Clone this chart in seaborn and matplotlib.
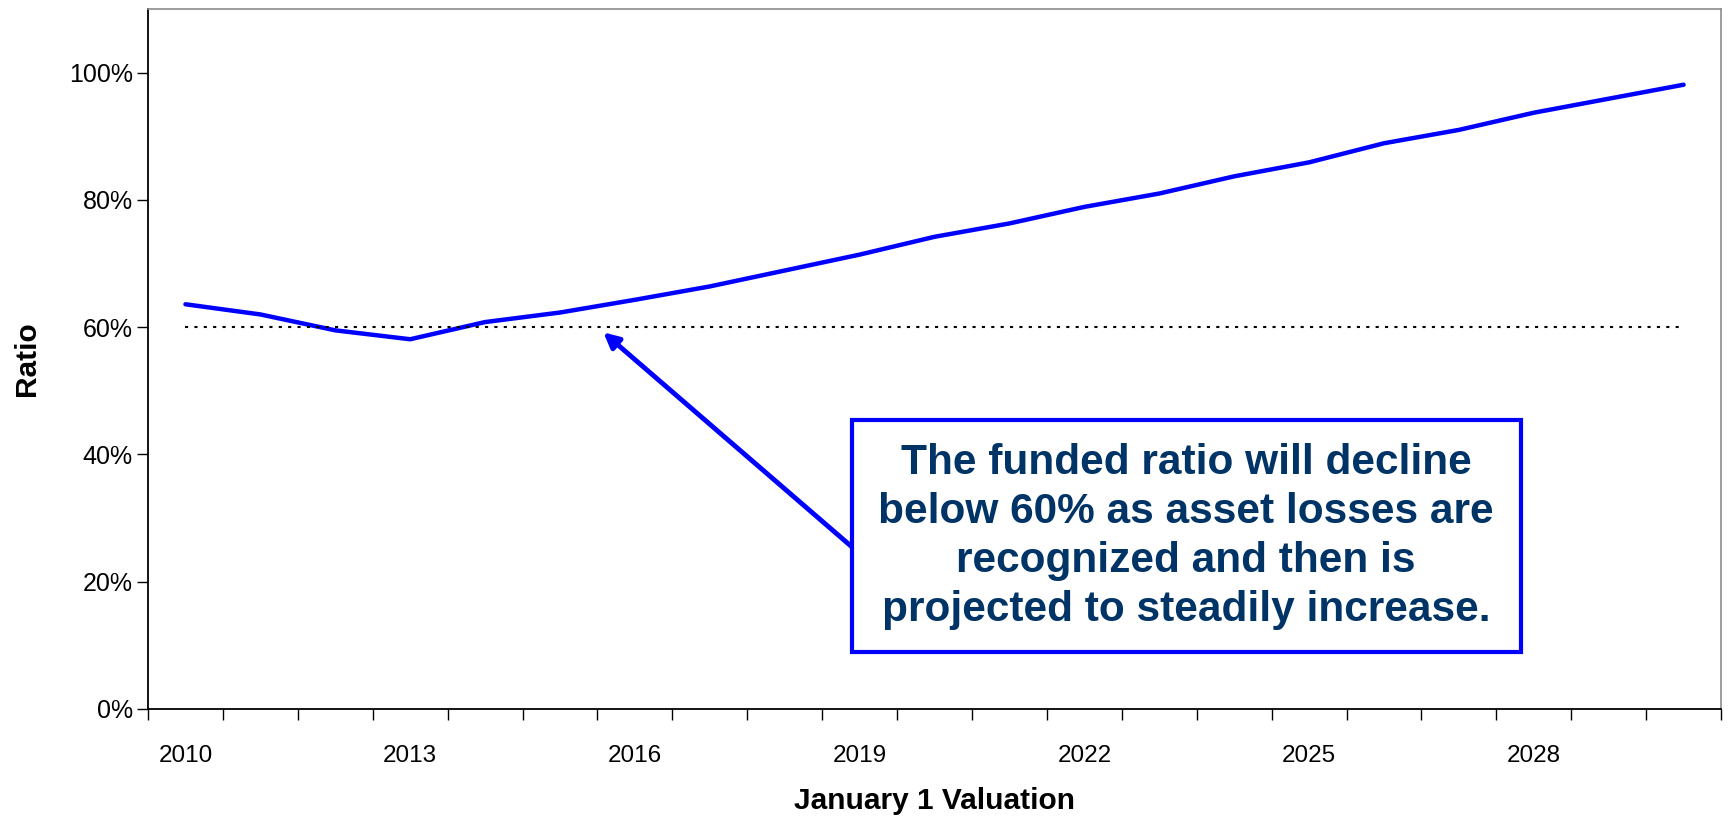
import numpy as np
import pandas as pd
import seaborn as sns
from matplotlib import pyplot as plt
from matplotlib.patches import Rectangle
from matplotlib.ticker import FixedLocator, PercentFormatter

# Funded ratio by January 1 valuation year
years = [str(y) for y in range(2010, 2031)]
funded_ratio = [0.636, 0.620, 0.595, 0.581, 0.608, 0.623, 0.643, 0.664, 0.689,
                0.714, 0.742, 0.763, 0.789, 0.810, 0.837, 0.859, 0.889, 0.910,
                0.937, 0.959, 0.981]
threshold = 0.60
tick_years = years[::3]

df = pd.DataFrame({'year': years, 'ratio': funded_ratio})

sns.set_style('white')
plt.rcParams['font.family'] = ['Liberation Sans', 'DejaVu Sans']
plt.rcParams['text.color'] = 'black'
plt.rcParams['axes.labelcolor'] = 'black'
plt.rcParams['xtick.color'] = 'black'
plt.rcParams['ytick.color'] = 'black'

fig = plt.figure(figsize=(17.29, 8.18), dpi=100)
ax = fig.add_axes([0.0856, 0.1333, 0.9098, 0.8557])

sns.lineplot(data=df, x='year', y='ratio', color='#0000FF', linewidth=3.2, ax=ax)

# dotted 60% reference line
ax.plot([years[0], years[-1]], [threshold, threshold], color='black',
        linestyle=(0, (1.5, 3)), linewidth=1.5)

ax.set_xlim(-0.5, len(years) - 0.5)
ax.set_ylim(0, 1.1)

# y axis
ax.set_yticks(np.arange(0, 1.01, 0.2))
ax.yaxis.set_major_formatter(PercentFormatter(1.0, decimals=0))
ax.tick_params(axis='y', length=8, width=1, labelsize=18, pad=3, left=True)

# x axis: labels every 3rd year, tick marks between categories
ax.set_xticks([years.index(y) for y in tick_years])
ax.set_xticklabels(tick_years)
ax.xaxis.set_minor_locator(FixedLocator(np.arange(-0.5, len(years), 1)))
ax.tick_params(axis='x', which='major', length=0, labelsize=17.5, pad=26)
ax.tick_params(axis='x', which='minor', length=8, width=1, bottom=True)

for side in ['left', 'bottom']:
    ax.spines[side].set_color('black')
    ax.spines[side].set_linewidth(1.3)
for side in ['top', 'right']:
    ax.spines[side].set_color('#8c8c8c')
    ax.spines[side].set_linewidth(1.2)

ax.set_xlabel('January 1 Valuation', fontsize=21.5, fontweight='bold', labelpad=14)
ax.set_ylabel('Ratio', fontsize=21.5, fontweight='bold', labelpad=20)

# callout box with arrow
ax.add_patch(Rectangle((0.4475, 0.0814), 0.4255, 0.3316, transform=ax.transAxes,
                       facecolor='white', edgecolor='#0000FF', linewidth=3, zorder=5))
ax.text(0.660, 0.247,
        'The funded ratio will decline\nbelow 60% as asset losses are\n'
        'recognized and then is\nprojected to steadily increase.',
        transform=ax.transAxes, ha='center', va='center', fontsize=30.5,
        fontweight='bold', color='#003366', linespacing=1.29, zorder=6)
ax.annotate('', xy=(0.2895, 0.538), xycoords='axes fraction',
            xytext=(0.4475, 0.2315), textcoords='axes fraction',
            arrowprops=dict(arrowstyle='-|>,head_length=0.9,head_width=0.45',
                            color='#0000FF', linewidth=3.5, shrinkA=0, shrinkB=0),
            zorder=4)

fig.savefig('out.png', dpi=100)
